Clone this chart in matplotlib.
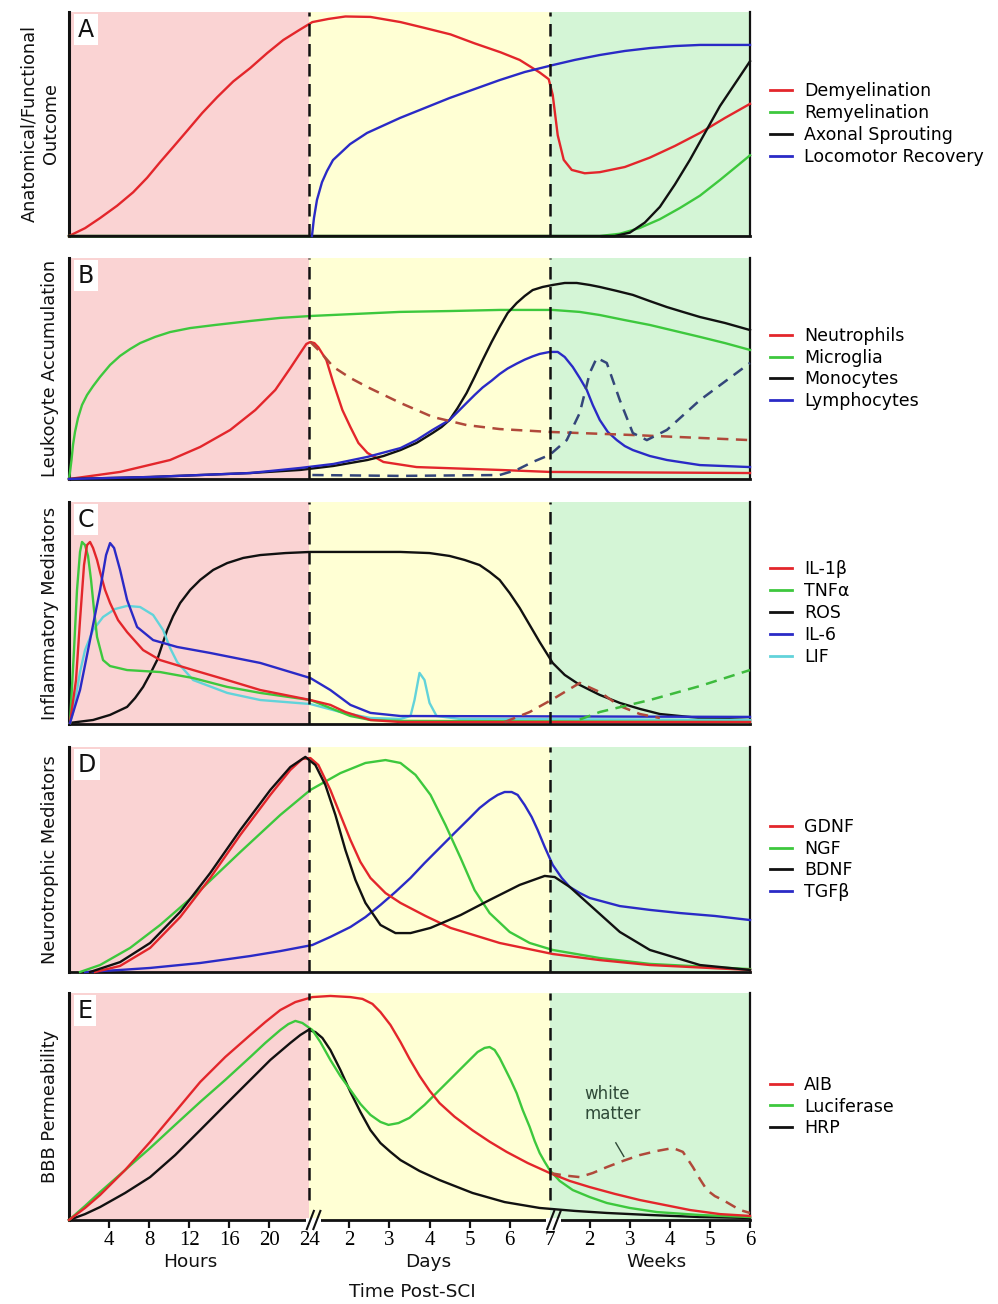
import matplotlib
matplotlib.use('Agg')
import matplotlib.pyplot as plt
import matplotlib.transforms as mtransforms
from matplotlib.patches import Rectangle
from matplotlib.lines import Line2D

# ---------------- axis definition ----------------
# unified time axis: hours 0..24 -> 0..24 ; days 1..7 -> 24..48 (4 units/day) ; weeks 1..6 -> 48..68 (4 units/week)
tick_pos = [4, 8, 12, 16, 20, 24, 28, 32, 36, 40, 44, 48, 52, 56, 60, 64, 68]
tick_labels = ['4', '8', '12', '16', '20', '24', '2', '3', '4', '5', '6', '7', '2', '3', '4', '5', '6']
segment_bounds = [0, 24, 48, 68]
segment_names = ['Hours', 'Days', 'Weeks']

# ---------------- Panel A ----------------
A_demyel_x = [0, 1.6, 3.1, 4.8, 6.4, 7.8, 9.1, 10.4, 11.8, 13.3, 14.8, 16.4, 18.1, 19.8, 21.4, 22.9, 24.3, 25.9, 27.6, 30.1, 33.1, 35.5, 38.1, 40.5, 43.1, 45.0, 47.0, 47.9, 48.3, 48.8, 49.4, 50.2, 51.5, 53.0, 55.5, 58.0, 60.5, 63.0, 65.5, 68.0]
A_demyel_y = [0, .035, .08, .135, .195, .26, .33, .397, .47, .549, .62, .69, .75, .817, .875, .917, .955, .969, .98, .978, .955, .929, .90, .86, .82, .786, .73, .70, .63, .45, .34, .295, .28, .285, .308, .35, .402, .46, .527, .59]
A_remyel_x = [0, 53, 55, 57, 59, 61, 63, 65, 68]
A_remyel_y = [0, 0, .01, .036, .075, .125, .18, .25, .36]
A_axon_x = [0, 54.5, 56, 57.5, 59, 60.5, 62, 63.5, 65, 66.5, 68]
A_axon_y = [0, 0, .015, .06, .13, .23, .34, .46, .58, .68, .78]
A_loco_x = [24.26, 24.46, 24.76, 25.26, 25.76, 26.36, 28.06, 29.76, 33.05, 35.5, 38.0, 40.5, 43.0, 45.5, 48.3, 50.5, 53.0, 55.5, 58.0, 60.5, 63.0, 68.0]
A_loco_y = [0, .08, .161, .24, .29, .339, .41, .46, .527, .571, .616, .656, .696, .732, .763, .786, .808, .826, .839, .848, .853, .853]

# ---------------- Panel B ----------------
B_neut_x = [0, 5.1, 10.1, 13.1, 16.1, 18.6, 20.6, 22.1, 23.3, 23.7, 24.1, 24.5, 24.9, 25.7, 26.4, 27.3, 28.1, 28.9, 29.8, 31.4, 34.7, 43.0, 48.0, 68.0]
B_neut_y = [0, .032, .086, .145, .222, .312, .403, .502, .584, .611, .62, .615, .596, .538, .434, .312, .235, .163, .118, .077, .054, .041, .032, .027]
B_neut_d_x = [24.1, 25.1, 26.4, 28.1, 29.8, 33.1, 36.3, 39.7, 43.0, 48.0, 56.3, 68.0]
B_neut_d_y = [.62, .575, .507, .457, .416, .344, .281, .244, .226, .213, .199, .176]
B_micro_x = [0, .1, .25, .4, .6, .9, 1.3, 1.8, 2.4, 3.1, 4.1, 5.1, 6.1, 7.1, 8.6, 10.1, 12.1, 14.6, 18.1, 21.1, 24.3, 33.0, 38.0, 43.0, 48.3, 51.0, 53.0, 55.5, 58.0, 60.5, 63.0, 65.5, 68.0]
B_micro_y = [0, .032, .086, .154, .213, .276, .335, .38, .42, .462, .516, .557, .588, .615, .643, .665, .683, .697, .715, .729, .738, .756, .76, .765, .765, .756, .742, .719, .697, .67, .643, .615, .584]
B_mono_x = [0, 8.1, 13.1, 18.1, 23.1, 26.4, 29.8, 31.4, 33.1, 34.7, 36.3, 37.2, 38.0, 38.8, 39.7, 40.5, 41.3, 42.2, 43.0, 43.8, 44.7, 45.5, 46.3, 47.3, 48.3, 49.5, 50.7, 52.0, 53.0, 54.7, 56.3, 58.0, 59.7, 61.3, 63.0, 65.5, 68.0]
B_mono_y = [0, .009, .018, .027, .041, .059, .086, .104, .131, .163, .208, .235, .267, .321, .389, .462, .538, .62, .688, .751, .796, .828, .855, .869, .878, .887, .887, .878, .869, .851, .833, .805, .778, .756, .733, .706, .674]
B_lymph_x = [0, 8.1, 18.1, 23.1, 26.4, 29.8, 33.1, 34.7, 36.3, 38.0, 38.8, 39.7, 40.5, 41.3, 42.2, 43.0, 43.8, 44.7, 45.5, 46.3, 47.0, 48.0, 48.8, 49.5, 50.3, 51.0, 51.7, 52.3, 53.0, 53.8, 54.7, 55.5, 56.3, 58.0, 59.7, 63.0, 68.0]
B_lymph_y = [0, .009, .027, .05, .068, .10, .14, .176, .222, .267, .303, .344, .38, .414, .445, .475, .50, .522, .54, .555, .566, .575, .575, .552, .507, .457, .403, .335, .267, .213, .176, .149, .131, .104, .086, .063, .054]
B_lymph_d_x = [24.3, 33.0, 43.0, 44.7, 46.3, 48.0, 49.7, 51.0, 52.0, 52.7, 53.7, 55.0, 56.3, 57.7, 59.7, 63.0, 68.0]
B_lymph_d_y = [.018, .014, .018, .041, .077, .109, .176, .299, .48, .548, .525, .357, .208, .176, .222, .357, .525]

# ---------------- Panel C ----------------
C_il1_x = [.1, .7, 1.1, 1.5, 1.8, 2.1, 2.4, 2.8, 3.1, 3.6, 4.1, 4.9, 5.8, 7.4, 9.1, 12.4, 15.8, 19.1, 24.1, 26.1, 27.6, 30.1, 33.1, 68]
C_il1_y = [.005, .198, .468, .716, .806, .82, .793, .739, .685, .604, .545, .468, .414, .333, .288, .243, .198, .153, .108, .086, .054, .018, .009, .009]
C_il1_d_x = [43.5, 46.0, 48.5, 51.0, 53.0, 55.0, 57.0, 59.0]
C_il1_d_y = [.009, .054, .117, .185, .144, .081, .045, .027]
C_tnf_x = [.1, .5, .8, 1.1, 1.3, 1.6, 1.9, 2.2, 2.5, 2.8, 3.4, 4.1, 5.8, 9.1, 12.4, 15.8, 19.1, 24.1, 26.1, 28.1, 30.1, 33.1, 68]
C_tnf_y = [.005, .333, .604, .775, .82, .806, .757, .649, .514, .392, .288, .261, .243, .234, .207, .167, .14, .108, .072, .036, .018, .014, .009]
C_tnf_d_x = [51.0, 53.0, 58.0, 63.0, 68.0]
C_tnf_d_y = [.02, .054, .108, .171, .243]
C_ros_x = [.1, 2.4, 4.1, 5.8, 6.6, 7.4, 8.1, 8.8, 9.3, 9.8, 10.4, 11.1, 12.1, 13.1, 14.4, 15.8, 17.4, 19.1, 21.6, 24.1, 33.1, 36.0, 38.0, 39.5, 41.0, 42.0, 43.0, 44.0, 45.0, 46.0, 47.0, 48.3, 49.5, 51.0, 53.0, 55.0, 57.0, 59.0, 63.0, 68.0]
C_ros_y = [.005, .018, .041, .077, .117, .167, .225, .288, .356, .423, .486, .545, .604, .649, .694, .725, .748, .761, .77, .775, .775, .77, .757, .739, .716, .685, .649, .59, .523, .446, .369, .275, .221, .176, .131, .095, .068, .045, .027, .018]
C_il6_x = [.1, 1.1, 2.1, 3.1, 3.7, 4.1, 4.5, 5.1, 5.8, 6.8, 8.4, 10.8, 14.1, 19.1, 24.1, 26.1, 28.1, 30.1, 33.1, 68]
C_il6_y = [.005, .153, .378, .604, .761, .815, .793, .694, .559, .437, .378, .347, .32, .275, .207, .153, .086, .05, .036, .032]
C_lif_x = [.1, .4, .8, 1.1, 1.6, 2.4, 3.4, 4.6, 5.8, 7.1, 8.4, 9.4, 10.1, 10.8, 12.4, 15.8, 19.1, 24.1, 27.1, 30.1, 33.1, 34.1, 34.5, 35.0, 35.5, 36.0, 36.7, 39.0, 68]
C_lif_y = [.005, .054, .153, .234, .333, .423, .482, .518, .532, .527, .491, .423, .342, .279, .198, .14, .108, .09, .054, .027, .023, .036, .108, .23, .198, .095, .036, .023, .018]

# ---------------- Panel D ----------------
D_gdnf_x = [2.6, 5.1, 8.1, 11.1, 14.1, 17.1, 20.1, 22.1, 23.3, 24.1, 24.9, 26.1, 27.1, 28.1, 29.1, 30.1, 31.6, 33.1, 35.6, 38.1, 43.0, 48.3, 53.0, 58.0, 68.0]
D_gdnf_y = [0, .027, .107, .244, .418, .609, .787, .898, .947, .951, .92, .809, .698, .587, .489, .418, .351, .307, .249, .196, .129, .08, .053, .031, .009]
D_ngf_x = [1.1, 3.1, 6.1, 9.1, 13.1, 17.1, 21.1, 24.1, 27.1, 29.6, 31.6, 33.1, 34.6, 36.1, 37.6, 39.1, 40.5, 42.0, 44.0, 46.0, 48.3, 53.0, 58.0, 68.0]
D_ngf_y = [0, .031, .107, .209, .364, .533, .698, .809, .884, .929, .942, .929, .876, .787, .653, .507, .364, .262, .178, .129, .098, .062, .036, .013]
D_bdnf_x = [2.1, 5.1, 8.1, 11.1, 14.1, 17.1, 20.1, 22.1, 23.6, 24.6, 25.6, 26.6, 27.6, 28.6, 29.6, 31.1, 32.6, 34.1, 36.1, 39.1, 42.0, 45.0, 47.5, 48.5, 50.0, 52.0, 55.0, 58.0, 63.0, 68.0]
D_bdnf_y = [0, .044, .129, .267, .44, .631, .809, .911, .956, .92, .831, .698, .542, .409, .307, .209, .173, .173, .196, .253, .32, .387, .427, .422, .378, .298, .178, .098, .031, .009]
D_tgf_x = [1.6, 5.1, 8.1, 13.1, 18.1, 21.1, 24.3, 26.1, 28.1, 29.6, 31.1, 32.6, 34.1, 35.5, 37.0, 38.5, 40.0, 41.0, 42.0, 42.8, 43.5, 44.2, 44.8, 45.5, 46.2, 46.8, 47.5, 48.3, 49.2, 50.0, 51.0, 52.0, 53.5, 55.0, 58.0, 61.0, 64.5, 68.0]
D_tgf_y = [0, .009, .018, .04, .071, .093, .12, .156, .2, .244, .298, .356, .418, .484, .551, .618, .684, .729, .764, .787, .8, .8, .787, .742, .689, .631, .556, .476, .418, .378, .351, .329, .311, .293, .276, .262, .249, .231]

# ---------------- Panel E ----------------
E_aib_x = [0, 1.6, 3.1, 5.6, 8.1, 10.6, 13.1, 15.6, 18.1, 19.6, 21.1, 22.6, 24.3, 26.1, 28.1, 29.3, 30.3, 31.1, 32.1, 33.1, 34.0, 35.0, 36.0, 37.0, 38.5, 40.3, 42.0, 43.7, 45.8, 48.0, 50.0, 52.0, 54.5, 57.0, 59.5, 62.0, 65.0, 68.0]
E_aib_y = [0, .053, .11, .22, .344, .476, .608, .718, .815, .872, .925, .96, .982, .987, .982, .974, .952, .916, .859, .784, .71, .635, .57, .515, .455, .395, .345, .30, .251, .207, .172, .145, .115, .088, .066, .044, .026, .018]
E_aib_d_x = [48.0, 49.5, 51.0, 52.3, 53.7, 55.3, 57.0, 58.7, 60.3, 61.3, 62.3, 63.0, 63.7, 64.5, 65.3, 67.0, 68.0]
E_aib_d_y = [.207, .196, .189, .207, .233, .26, .286, .304, .317, .3, .233, .18, .132, .105, .088, .044, .031]
E_luc_x = [0, 1.6, 3.1, 5.6, 8.1, 10.6, 13.1, 15.6, 18.1, 19.6, 21.1, 21.9, 22.6, 23.3, 24.3, 25.1, 26.1, 27.1, 28.1, 29.1, 30.1, 31.1, 31.9, 32.9, 34.0, 35.5, 37.0, 38.5, 40.0, 40.8, 41.5, 42.0, 42.5, 43.0, 43.5, 44.1, 44.7, 45.3, 46.0, 46.5, 47.0, 47.5, 48.0, 49.0, 50.3, 52.0, 53.7, 56.0, 58.7, 63.0, 68.0]
E_luc_y = [0, .062, .123, .22, .317, .419, .52, .617, .718, .78, .837, .863, .877, .868, .837, .784, .705, .634, .573, .511, .463, .432, .419, .427, .45, .507, .573, .639, .705, .74, .758, .762, .749, .714, .67, .617, .559, .485, .41, .348, .295, .256, .22, .172, .132, .101, .075, .053, .035, .022, .013]
E_hrp_x = [0, 1.6, 3.1, 5.6, 8.1, 10.6, 13.1, 15.6, 18.1, 20.1, 22.1, 23.1, 23.9, 24.6, 25.3, 26.1, 27.1, 28.1, 29.1, 30.1, 31.1, 32.1, 33.1, 35.0, 37.0, 40.3, 43.5, 47.0, 50.5, 53.7, 58.0, 63.0, 68.0]
E_hrp_y = [0, .026, .057, .119, .189, .286, .396, .507, .617, .705, .78, .815, .837, .828, .802, .749, .661, .564, .476, .396, .339, .30, .264, .216, .176, .119, .079, .053, .040, .031, .022, .013, .009]

# ---------------- style ----------------
RED = '#E3262B'
GREEN = '#3DC83D'
BLACK = '#111111'
BLUE = '#2A2AC6'
CYAN = '#62D3DA'
RED_D = '#B0493A'
BLUE_D = '#34467A'
GREEN_D = '#3DBB3D'
BG = ['#FAD3D3', '#FFFFD4', '#D4F5D6']

W, H = 998, 1304
fig = plt.figure(figsize=(W / 100, H / 100), dpi=100)
fig.patch.set_facecolor('white')

panel_px = [(12, 236), (258, 479), (502, 724), (747, 972), (993, 1220)]
left_px, right_px = 69, 750

panels = [
    dict(letter='A', ylabel='Anatomical/Functional\nOutcome',
         lines=[(A_demyel_x, A_demyel_y, RED, '-'),
                (A_remyel_x, A_remyel_y, GREEN, '-'),
                (A_axon_x, A_axon_y, BLACK, '-'),
                (A_loco_x, A_loco_y, BLUE, '-')],
         legend=[(RED, 'Demyelination'), (GREEN, 'Remyelination'), (BLACK, 'Axonal Sprouting'),
                 (BLUE, 'Locomotor Recovery')]),
    dict(letter='B', ylabel='Leukocyte Accumulation',
         lines=[(B_micro_x, B_micro_y, GREEN, '-'),
                (B_neut_x, B_neut_y, RED, '-'),
                (B_mono_x, B_mono_y, BLACK, '-'),
                (B_lymph_x, B_lymph_y, BLUE, '-'),
                (B_neut_d_x, B_neut_d_y, RED_D, '--'),
                (B_lymph_d_x, B_lymph_d_y, BLUE_D, '--')],
         legend=[(RED, 'Neutrophils'), (GREEN, 'Microglia'), (BLACK, 'Monocytes'), (BLUE, 'Lymphocytes')]),
    dict(letter='C', ylabel='Inflammatory Mediators',
         lines=[(C_ros_x, C_ros_y, BLACK, '-'),
                (C_lif_x, C_lif_y, CYAN, '-'),
                (C_tnf_x, C_tnf_y, GREEN, '-'),
                (C_il1_x, C_il1_y, RED, '-'),
                (C_il6_x, C_il6_y, BLUE, '-'),
                (C_il1_d_x, C_il1_d_y, RED_D, '--'),
                (C_tnf_d_x, C_tnf_d_y, GREEN_D, '--')],
         legend=[(RED, 'IL-1β'), (GREEN, 'TNFα'), (BLACK, 'ROS'), (BLUE, 'IL-6'), (CYAN, 'LIF')]),
    dict(letter='D', ylabel='Neurotrophic Mediators',
         lines=[(D_tgf_x, D_tgf_y, BLUE, '-'),
                (D_ngf_x, D_ngf_y, GREEN, '-'),
                (D_gdnf_x, D_gdnf_y, RED, '-'),
                (D_bdnf_x, D_bdnf_y, BLACK, '-')],
         legend=[(RED, 'GDNF'), (GREEN, 'NGF'), (BLACK, 'BDNF'), (BLUE, 'TGFβ')]),
    dict(letter='E', ylabel='BBB Permeability',
         lines=[(E_hrp_x, E_hrp_y, BLACK, '-'),
                (E_luc_x, E_luc_y, GREEN, '-'),
                (E_aib_x, E_aib_y, RED, '-'),
                (E_aib_d_x, E_aib_d_y, RED_D, '--')],
         legend=[(RED, 'AIB'), (GREEN, 'Luciferase'), (BLACK, 'HRP')]),
]

for i, (p, (top, bot)) in enumerate(zip(panels, panel_px)):
    ax = fig.add_axes([left_px / W, 1 - bot / H, (right_px - left_px) / W, (bot - top) / H])
    ax.set_xlim(0, 68)
    ax.set_ylim(0, 1)
    for k in range(3):
        ax.axvspan(segment_bounds[k], segment_bounds[k + 1], color=BG[k], lw=0, zorder=0)
    ax.spines['top'].set_visible(False)
    ax.spines['left'].set_linewidth(2.2)
    ax.spines['bottom'].set_linewidth(2.0)
    ax.spines['right'].set_linewidth(1.6)
    for s in ['left', 'bottom', 'right']:
        ax.spines[s].set_color('#111111')
    ax.set_yticks([])

    for xs, ys, col, ls in p['lines']:
        if ls == '--':
            ax.plot(xs, ys, color=col, lw=1.8, dashes=(4.5, 3), zorder=3, clip_on=False,
                    solid_joinstyle='round')
        else:
            ax.plot(xs, ys, color=col, lw=1.7, zorder=3, clip_on=False, solid_joinstyle='round')

    # dashed dividers
    y0 = 0.09 if i == 4 else 0.0
    for xb in (24, 48):
        ax.plot([xb, xb], [y0, 1], color='#111111', lw=1.8, dashes=(5, 3), zorder=4)

    # panel letter
    ax.text(0.013, 0.975, p['letter'], transform=ax.transAxes, fontsize=17, ha='left', va='top',
            color='#111111', zorder=6,
            bbox=dict(boxstyle='square,pad=0.15', facecolor='white', edgecolor='none'))

    # legend
    hl = [Line2D([], [], color=c, lw=2) for c, _ in p['legend']]
    labs = [l for _, l in p['legend']]
    ax.legend(hl, labs, loc='center left', bbox_to_anchor=(1 + 20 / 681, 0.5), frameon=False,
              borderpad=0, borderaxespad=0, handlelength=1.25, handletextpad=0.7,
              labelspacing=0.22, fontsize=12.5)

    # y label
    if i == 0:
        fig.text(40 / W, 1 - 124 / H, p['ylabel'], rotation=90, ha='center', va='center',
                 fontsize=12.8, multialignment='center', linespacing=1.25, color='#111111')
    else:
        fig.text(50 / W, 1 - (top + bot) / 2 / H, p['ylabel'], rotation=90, ha='center', va='center',
                 fontsize=12.8, color='#111111')

    if i < 4:
        ax.set_xticks([])
    else:
        ax.set_xticks(tick_pos)
        ax.set_xticklabels(tick_labels, family='Liberation Serif', fontsize=15)
        ax.tick_params(axis='x', direction='out', length=6, width=1.6, pad=2, color='#111111')
        ticks = ax.xaxis.get_major_ticks()
        for idx in (5, 11):
            ticks[idx].tick1line.set_visible(False)
        blend = mtransforms.blended_transform_factory(ax.transData, ax.transAxes)
        for xb in (24.4, 48.4):
            ax.add_patch(Rectangle((xb - 0.75, -0.012), 1.5, 0.022, transform=blend,
                                   facecolor='white', edgecolor='none', clip_on=False, zorder=7))
            for dx in (-0.3, 0.35):
                ax.plot([xb + dx - 0.35, xb + dx + 0.35], [-0.04, 0.04], transform=blend,
                        color='#111111', lw=1.5, clip_on=False, zorder=8)
        # white matter annotation
        ax.text(51.5, 0.51, 'white\nmatter', fontsize=12, color='#2F4A38', ha='left', va='center',
                linespacing=1.15, zorder=6)
        ax.plot([54.6, 55.4], [0.34, 0.28], color='#2F4A38', lw=1.0, zorder=6)

fig.text(190 / W, 1 - 1262 / H, 'Hours', ha='center', va='center', fontsize=13.3, color='#111111')
fig.text(428 / W, 1 - 1262 / H, 'Days', ha='center', va='center', fontsize=13.3, color='#111111')
fig.text(656 / W, 1 - 1262 / H, 'Weeks', ha='center', va='center', fontsize=13.3, color='#111111')
fig.text(412 / W, 1 - 1292 / H, 'Time Post-SCI', ha='center', va='center', fontsize=13.3, color='#111111')

fig.savefig('out.png', dpi=100, facecolor='white')
